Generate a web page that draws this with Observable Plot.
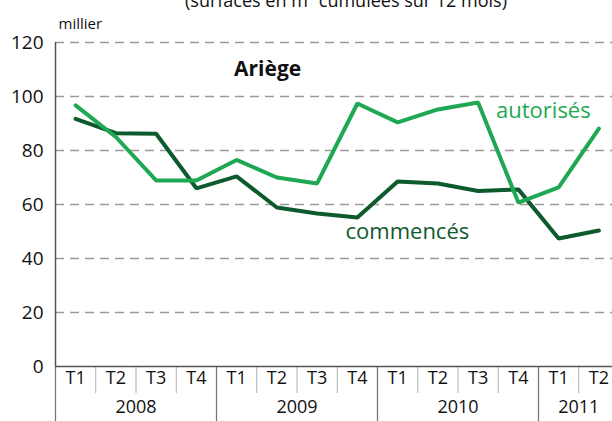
<!DOCTYPE html>
<html>
<head>
<meta charset="utf-8">
<script src="https://cdn.jsdelivr.net/npm/d3@7"></script>
<script src="https://cdn.jsdelivr.net/npm/@observablehq/plot@0.6"></script>
<style>
  html, body { margin: 0; padding: 0; background: #fff; overflow: hidden; }
  #chart svg { overflow: hidden; display: block; }
</style>
</head>
<body>
<div id="chart"></div>
<script>
const quarters = ["T1","T2","T3","T4","T1","T2","T3","T4","T1","T2","T3","T4","T1","T2"];
const years = ["2008","2009","2010","2011"];
const yearCenters = [1.5, 5.5, 9.5, 12.5];
const autorises = [96.7, 85, 68.9, 68.9, 76.5, 70, 67.8, 97.4, 90.4, 95.2, 97.8, 60.7, 66.3, 88.1];
const commences = [91.7, 86.4, 86.2, 66, 70.4, 58.9, 56.7, 55.2, 68.5, 67.8, 65, 65.6, 47.4, 50.4];
const yTicks = [0, 20, 40, 60, 80, 100, 120];

const idx = quarters.map((_, i) => i);
const rowsA = idx.map(i => ({i, v: autorises[i]}));
const rowsC = idx.map(i => ({i, v: commences[i]}));
const quarterSeps = idx.slice(1).filter(i => i % 4 !== 0).map(i => i - 0.5);
const yearSeps = [-0.5, 3.5, 7.5, 11.5];

const font = "Open Sans, Lato, sans-serif";
const cGreen = "#1fa854";
const cDark = "#0d5a2c";

const chart = Plot.plot({
  width: 612,
  height: 421,
  marginTop: 42,
  marginBottom: 55,
  marginLeft: 55,
  marginRight: 0,
  style: {fontFamily: font, background: "#fff"},
  x: {type: "linear", domain: [-0.5, 13.5], range: [55, 618.5], axis: null},
  y: {domain: [0, 120], axis: null},
  marks: [
    Plot.ruleY(yTicks.filter(d => d > 0), {stroke: "#9a9a9a", strokeWidth: 1.5, strokeDasharray: "9,6"}),
    Plot.axisY(yTicks, {tickSize: 0, tickPadding: 12, fontSize: 19, fill: "#111", label: null, textAnchor: "end"}),
    Plot.axisX(quarterSeps, {tickSize: 27, stroke: "#b0b0b0", tickFormat: () => "", label: null}),
    Plot.axisX(yearSeps, {tickSize: 55, stroke: "#777", strokeWidth: 1.3, tickFormat: () => "", label: null}),
    Plot.ruleX([-0.5], {y1: 0, y2: 120, stroke: "#555", strokeWidth: 1.5}),
    Plot.ruleY([0], {stroke: "#555", strokeWidth: 1.5}),
    Plot.text(idx, {x: d => d, text: d => quarters[d], frameAnchor: "bottom", dy: 17, fontSize: 18, fill: "#111"}),
    Plot.text(years, {x: (d, i) => yearCenters[i], text: d => d, frameAnchor: "bottom", dy: 46, fontSize: 18, fill: "#111"}),
    Plot.line(rowsC, {x: "i", y: "v", stroke: cDark, strokeWidth: 4, strokeLinejoin: "miter"}),
    Plot.line(rowsA, {x: "i", y: "v", stroke: cGreen, strokeWidth: 4, strokeLinejoin: "miter"}),
    Plot.text(["Ariège"], {x: 4, y: 110, text: d => d, fontSize: 21, fontWeight: "bold", fill: "#111", textAnchor: "middle", dx: 31}),
    Plot.text(["autorisés"], {x: 11, y: 94.5, text: d => d, fontSize: 22, fill: cGreen, textAnchor: "middle", dx: 25}),
    Plot.text(["commencés"], {x: 7, y: 50, text: d => d, fontSize: 22, fill: cDark, textAnchor: "middle", dx: 50}),
    Plot.text(["millier"], {frameAnchor: "top-left", dx: 3, dy: -24, text: d => d, fontSize: 15, fill: "#111", textAnchor: "start"}),
    Plot.text(["(surfaces en m² cumulées sur 12 mois)"], {frameAnchor: "top", dx: 12, dy: -48, text: d => d, fontSize: 18, fill: "#111"})
  ]
});
document.getElementById("chart").appendChild(chart);
</script>
</body>
</html>
